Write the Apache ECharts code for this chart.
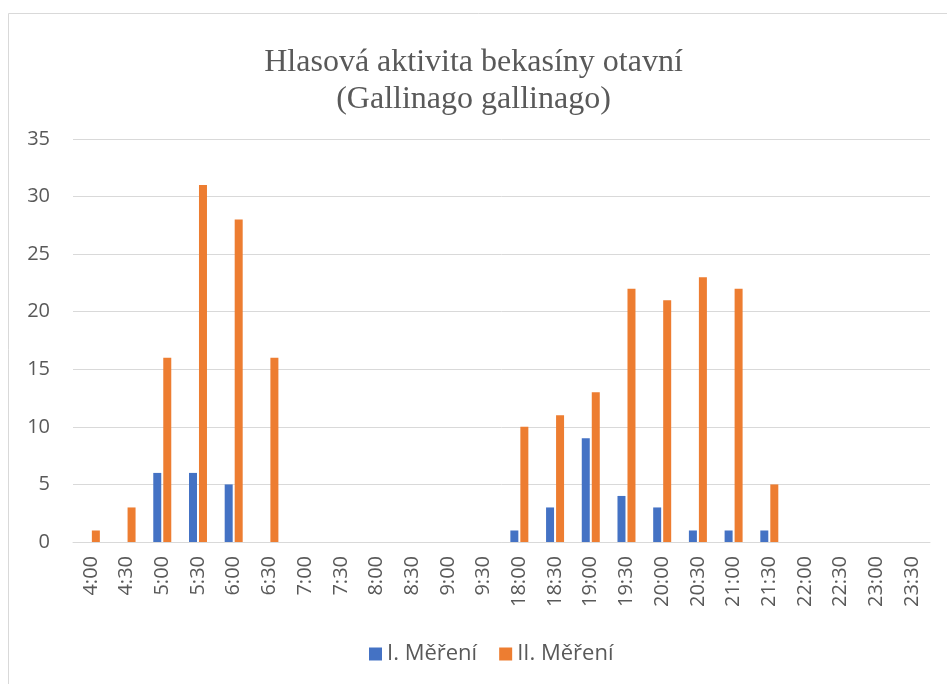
<!DOCTYPE html>
<html>
<head>
<meta charset="utf-8">
<script src="https://cdn.jsdelivr.net/npm/echarts@6/dist/echarts.min.js"></script>
<style>
  html, body { margin: 0; padding: 0; background: #fff; }
  #chart { width: 947px; height: 684px; }
</style>
</head>
<body>
<div id="chart"></div>
<script>
// časy (kategorie)
const categories = ['4:00', '4:30', '5:00', '5:30', '6:00', '6:30', '7:00', '7:30', '8:00', '8:30', '9:00', '9:30',
  '18:00', '18:30', '19:00', '19:30', '20:00', '20:30', '21:00', '21:30', '22:00', '22:30', '23:00', '23:30'];
const seriesNames = ['I. Měření', 'II. Měření'];
const mereni1 = [0, 0, 6, 6, 5, 0, 0, 0, 0, 0, 0, 0, 1, 3, 9, 4, 3, 1, 1, 1, 0, 0, 0, 0];
const mereni2 = [1, 3, 16, 31, 28, 16, 0, 0, 0, 0, 0, 0, 10, 11, 13, 22, 21, 23, 22, 5, 0, 0, 0, 0];
const yTicks = [0, 5, 10, 15, 20, 25, 30, 35];

const labelFont = 'Open Sans, Noto Sans, sans-serif';
const myChart = echarts.init(document.getElementById('chart'));
myChart.setOption({
  backgroundColor: '#fff',
  animation: false,
  graphic: [{
    type: 'rect',
    shape: { x: 8.5, y: 13.5, width: 960, height: 700 },
    style: { fill: 'none', stroke: '#d9d9d9', lineWidth: 1 },
  }],
  title: {
    text: 'Hlasová aktivita bekasíny otavní\n(Gallinago gallinago)',
    left: 'center',
    top: 39,
    textStyle: {
      fontFamily: 'Liberation Serif, serif',
      fontWeight: 'normal',
      fontSize: 32,
      lineHeight: 37,
      color: '#595959',
    },
  },
  legend: {
    data: seriesNames,
    top: 638,
    left: 364,
    itemWidth: 13,
    itemHeight: 13,
    itemGap: 22,
    icon: 'rect',
    textStyle: { fontFamily: labelFont, fontSize: 22, color: '#595959' },
  },
  grid: {
    left: 73,
    right: 17,
    top: 139,
    bottom: 142,
  },
  xAxis: {
    type: 'category',
    data: categories,
    axisLine: { lineStyle: { color: '#d9d9d9', width: 1 } },
    axisTick: { show: false },
    axisLabel: {
      rotate: 90,
      interval: 0,
      margin: 14,
      fontFamily: labelFont,
      fontSize: 20,
      color: '#595959',
    },
  },
  yAxis: {
    type: 'value',
    min: yTicks[0],
    max: yTicks[yTicks.length - 1],
    interval: 5,
    axisLine: { show: false },
    axisTick: { show: false },
    splitLine: { lineStyle: { color: '#d9d9d9', width: 1 } },
    axisLabel: {
      margin: 23,
      fontFamily: labelFont,
      fontSize: 20,
      color: '#595959',
    },
  },
  series: [{
    name: seriesNames[0],
    type: 'bar',
    data: mereni1,
    barWidth: 8,
    barGap: '25%',
    itemStyle: { color: '#4472C4' },
  }, {
    name: seriesNames[1],
    type: 'bar',
    data: mereni2,
    barWidth: 8,
    barGap: '25%',
    itemStyle: { color: '#ED7D31' },
  }],
});
</script>
</body>
</html>
